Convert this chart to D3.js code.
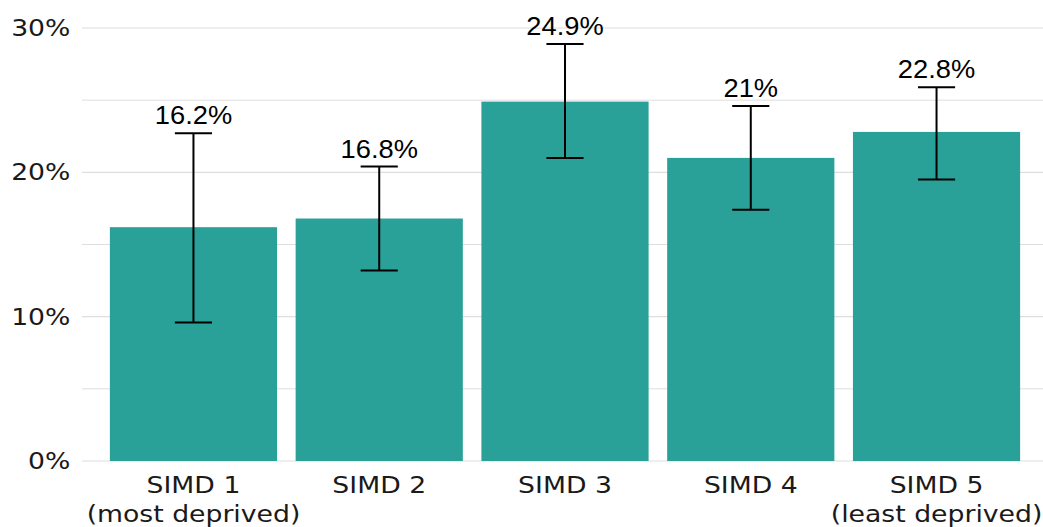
<!DOCTYPE html>
<html>
<head>
<meta charset="utf-8">
<script src="https://cdn.jsdelivr.net/npm/d3@7"></script>
<style>
  html, body { margin: 0; padding: 0; background: #ffffff; }
  svg { display: block; }
</style>
</head>
<body>
<svg id="chart" width="1043" height="527"></svg>
<script>
'use strict';
// data
var categories = ['SIMD 1', 'SIMD 2', 'SIMD 3', 'SIMD 4', 'SIMD 5'],
    subLabels = ['(most deprived)', '', '', '', '(least deprived)'],
    values = [16.2, 16.8, 24.9, 21, 22.8],
    lowerCI = [9.6, 13.2, 21.0, 17.4, 19.5],
    upperCI = [22.7, 20.4, 28.9, 24.6, 25.9],
    yTicks = [0, 10, 20, 30],
    yMinor = [5, 15, 25];

var width = 1043, height = 527,
    barColor = '#2aa198',
    gridColor = '#dedede',
    stretch = 1.16; // the reference text is a bit wider than it is tall

var svg = d3.select('#chart');

var x = d3.scaleBand()
  .domain(categories)
  .range([82, 1048])
  .paddingInner(0.1)
  .paddingOuter(0.15);

var y = d3.scaleLinear()
  .domain([0, 30])
  .range([461, 28]);

var rows = categories.map(function(c, i){
  return {cat: c, sub: subLabels[i], val: values[i], lo: lowerCI[i], hi: upperCI[i]};
});
var cx = d => x(d.cat) + x.bandwidth() / 2;

// grid
var grid = svg.append('g');
grid.selectAll('line.minor')
  .data(yMinor)
  .enter().append('line')
  .attr('class', 'minor')
  .attr('x1', 82).attr('x2', width)
  .attr('y1', d => y(d)).attr('y2', d => y(d))
  .attr('stroke', gridColor)
  .attr('stroke-width', 1);
grid.selectAll('line.major')
  .data(yTicks)
  .enter().append('line')
  .attr('class', 'major')
  .attr('x1', 82).attr('x2', width)
  .attr('y1', d => y(d)).attr('y2', d => y(d))
  .attr('stroke', gridColor)
  .attr('stroke-width', 1.2);

// y axis labels
var yAxis = d3.axisLeft(y).tickValues(yTicks).tickFormat(d => d + '%').tickSize(0).tickPadding(10);
var yg = svg.append('g').attr('transform', 'translate(82,0)').call(yAxis);
yg.select('.domain').remove();
yg.selectAll('text')
  .attr('transform', 'scale(' + stretch + ',1)')
  .style('font-family', 'DejaVu Sans')
  .style('font-size', '23px')
  .attr('fill', '#1a1a1a');

// bars
svg.append('g').selectAll('rect')
  .data(rows)
  .enter().append('rect')
  .attr('x', d => x(d.cat))
  .attr('width', x.bandwidth())
  .attr('y', d => y(d.val))
  .attr('height', d => y(0) - y(d.val))
  .attr('fill', barColor);

// error bars
var capW = x.step() * 0.2;
var eb = svg.append('g').selectAll('g')
  .data(rows)
  .enter().append('g')
  .attr('stroke', '#000000')
  .attr('stroke-width', 2);
eb.append('line')
  .attr('x1', cx).attr('x2', cx)
  .attr('y1', d => y(d.lo)).attr('y2', d => y(d.hi));
eb.append('line')
  .attr('x1', d => cx(d) - capW / 2).attr('x2', d => cx(d) + capW / 2)
  .attr('y1', d => y(d.lo)).attr('y2', d => y(d.lo));
eb.append('line')
  .attr('x1', d => cx(d) - capW / 2).attr('x2', d => cx(d) + capW / 2)
  .attr('y1', d => y(d.hi)).attr('y2', d => y(d.hi));

// value labels above the error bars
svg.append('g').selectAll('text')
  .data(rows)
  .enter().append('text')
  .attr('transform', d => 'translate(' + cx(d) + ',' + (y(d.hi) - 9) + ') scale(1.05,1)')
  .attr('text-anchor', 'middle')
  .style('font-family', 'Liberation Sans')
  .style('font-size', '26px')
  .attr('fill', '#000000')
  .text(d => d.val + '%');

// x axis labels
var xl = svg.append('g').selectAll('text')
  .data(rows)
  .enter().append('text')
  .attr('transform', d => 'translate(' + cx(d) + ',493) scale(' + stretch + ',1)')
  .attr('text-anchor', 'middle')
  .style('font-family', 'DejaVu Sans')
  .style('font-size', '23px')
  .attr('fill', '#1a1a1a');
xl.append('tspan').attr('x', 0).text(d => d.cat);
xl.append('tspan')
  .attr('x', 0)
  .attr('dy', 29)
  .text(d => d.sub);
</script>
</body>
</html>
